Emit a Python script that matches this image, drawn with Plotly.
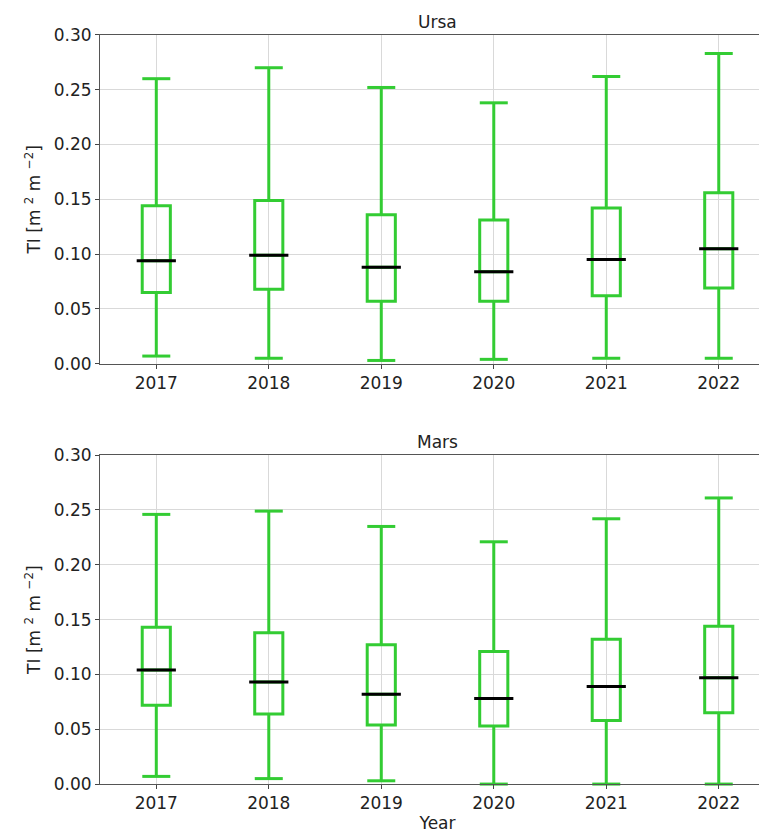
import plotly.graph_objects as go
from plotly.subplots import make_subplots

years = ["2017", "2018", "2019", "2020", "2021", "2022"]
ursa_low = [0.007, 0.005, 0.003, 0.004, 0.005, 0.005]
ursa_q1 = [0.065, 0.068, 0.057, 0.057, 0.062, 0.069]
ursa_med = [0.094, 0.099, 0.088, 0.084, 0.095, 0.105]
ursa_q3 = [0.144, 0.149, 0.136, 0.131, 0.142, 0.156]
ursa_high = [0.260, 0.270, 0.252, 0.238, 0.262, 0.283]
mars_low = [0.007, 0.005, 0.003, 0.0, 0.0, 0.0]
mars_q1 = [0.072, 0.064, 0.054, 0.053, 0.058, 0.065]
mars_med = [0.104, 0.093, 0.082, 0.078, 0.089, 0.097]
mars_q3 = [0.143, 0.138, 0.127, 0.121, 0.132, 0.144]
mars_high = [0.246, 0.249, 0.235, 0.221, 0.242, 0.261]

GREEN = "#33cc33"
fig = make_subplots(rows=2, cols=1)
for r, (lo, q1, md, q3, hi) in enumerate([(ursa_low, ursa_q1, ursa_med, ursa_q3, ursa_high),
                                          (mars_low, mars_q1, mars_med, mars_q3, mars_high)], start=1):
    fig.add_trace(go.Box(x=years, q1=q1, median=md, q3=q3, lowerfence=lo, upperfence=hi,
                         line=dict(color=GREEN, width=3), fillcolor="rgba(0,0,0,0)",
                         width=0.25, whiskerwidth=0, boxpoints=False, hoverinfo="skip"),
                  row=r, col=1)
    fig.add_trace(go.Scatter(x=years + years, y=lo + hi, mode="markers", cliponaxis=False,
                             marker=dict(symbol="line-ew-open", size=20, color=GREEN,
                                         line=dict(color=GREEN, width=3))),
                  row=r, col=1)
    fig.add_trace(go.Scatter(x=years, y=md, mode="markers",
                             marker=dict(symbol="line-ew-open", size=28, color="black",
                                         line=dict(color="black", width=3))),
                  row=r, col=1)

axfont = dict(family="DejaVu Sans", size=17, color="#222")
for r, dom in [(1, [0.576, 0.968]), (2, [0.075, 0.467])]:
    fig.update_yaxes(range=[0, 0.3], dtick=0.05, tickformat=".2f", domain=dom, showgrid=True,
                     gridcolor="#d9d9d9", showline=True, linecolor="#555", mirror=True, ticks="outside",
                     ticklen=4, tickfont=axfont, zeroline=False,
                     title=dict(text="TI [m <sup>2</sup> m <sup>−2</sup>]", font=axfont, standoff=8), row=r, col=1)
    fig.update_xaxes(range=[-0.5, 5.5], domain=[0.12, 1.0], showgrid=True, gridcolor="#d9d9d9",
                     showline=True, linecolor="#555", mirror=True, ticks="outside", ticklen=4,
                     tickfont=axfont, row=r, col=1)
fig.update_xaxes(title=dict(text="Year", font=axfont, standoff=4), row=2, col=1)
fig.update_layout(width=767, height=839, showlegend=False, plot_bgcolor="white", paper_bgcolor="white",
                  margin=dict(l=0, r=0, t=0, b=0, autoexpand=False),
                  annotations=[dict(text="Ursa", x=0.56, y=0.968, xref="paper", yref="paper", yanchor="bottom",
                                    showarrow=False, font=axfont, yshift=1),
                               dict(text="Mars", x=0.56, y=0.467, xref="paper", yref="paper", yanchor="bottom",
                                    showarrow=False, font=axfont, yshift=1)])
fig.write_html("out.html")
